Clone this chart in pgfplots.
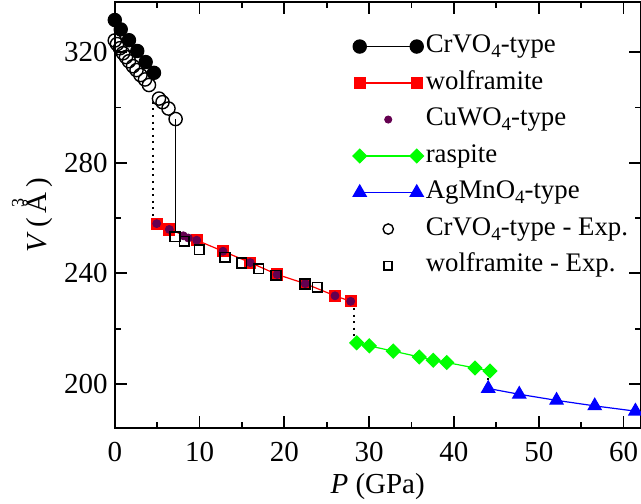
\documentclass[border=0pt]{standalone}
\usepackage{fontspec}
\setmainfont{Liberation Serif}
\usepackage{pgfplots}
\pgfplotsset{compat=1.18}
\definecolor{cupurple}{RGB}{100,0,80}
\newcommand{\sub}[1]{\raisebox{-0.42ex}{\fontsize{9.5}{9.5}\selectfont #1}}
\pgfplotsset{
  lineleg/.style={legend image code/.code={\draw[##1] plot coordinates {(0pt,0pt) (28.5pt,0pt)};}},
  dotleg/.style={legend image code/.code={\path[draw=none,fill=none] (0pt,0pt) rectangle (28.5pt,0.1pt);\draw[##1,every mark/.append style={scale=#1}] plot coordinates {(14.25pt,0pt)};}},
}
\begin{document}
\begin{tikzpicture}[x=1pt,y=1pt]
\useasboundingbox (0,0) rectangle (320.5,251.5);
\begin{axis}[
  at={(57.4pt,37.35pt)}, anchor=south west,
  scale only axis, width=262.85pt, height=213pt,
  xmin=0, xmax=62, ymin=184, ymax=338,
  xtick={0,10,...,60}, ytick={200,240,280,320},
  minor x tick num=1, minor y tick num=1,
  major tick length=6pt, minor tick length=3pt,
  tick style={line width=0.9pt, black},
  axis line style={line width=1pt},
  tick align=inside,
  /pgf/number format/assume math mode=true,
  ticklabel style={font=\fontsize{14.5}{16}\selectfont},
  xticklabel style={yshift=-3.5pt},
  xlabel={\textit{P} (GPa)},
  ylabel={\textit{V}\,(\,\ooalign{Å\cr\hidewidth\raisebox{0.8em}{\fontsize{9}{9}\selectfont 3}\hidewidth\cr}\,)},
  label style={font=\fontsize{14.5}{16}\selectfont},
  xlabel style={at={(axis description cs:0.5,-0.154)}, anchor=base},
  ylabel style={at={(axis description cs:-0.129,0.5)}, anchor=base},
  legend style={at={(axis description cs:0.453,0.939)}, anchor=north west,
    draw=none, fill=none, inner sep=0pt, outer sep=0pt, row sep=0pt,
    font=\fontsize{13.4}{15}\selectfont,
    nodes={text height=11pt, text depth=5pt, inner sep=1.125pt}},
  legend cell align=left,
]
% transitions
\addplot[black, line width=0.9pt, dash pattern=on 1pt off 2.3pt, forget plot] coordinates {(4.55,302)(4.55,258)};
\addplot[black, line width=0.6pt, forget plot] coordinates {(7.17,295.8)(7.17,255)};
\addplot[black, line width=0.9pt, dash pattern=on 1pt off 2.3pt, forget plot] coordinates {(28.2,229.9)(28.2,214.9)};
\addplot[black, line width=0.9pt, dash pattern=on 1pt off 2.3pt, forget plot] coordinates {(43.97,204.7)(43.97,198.4)};

\addplot[black, line width=0.6pt, mark=*, mark size=3.3pt, lineleg] coordinates {
 (0,331.6)(0.7,328.2)(1.67,324.3)(2.65,320.4)(3.64,316.4)(4.62,312.5)};
\addlegendentry{CrVO\sub{4}-type}

\addplot[red, line width=0.6pt, mark=square*, mark size=2.75pt, lineleg] coordinates {
 (4.94,258.0)(6.43,255.9)(9.66,252.0)(12.76,248.0)(15.98,243.9)(19.15,239.6)(22.46,236.3)(25.97,231.9)(27.82,229.9)};
\addlegendentry{wolframite}

\addplot[cupurple, only marks, mark=*, mark size=2pt, dotleg=0.9] coordinates {
 (4.94,258.0)(6.43,255.9)(8.08,253.6)(8.67,252.8)(9.66,252.0)(12.76,248.0)(15.98,243.9)(19.15,239.6)(22.46,236.3)(25.97,231.9)(27.82,229.9)};
\addlegendentry{CuWO\sub{4}-type}

\addplot[green, line width=0.6pt, mark=square*, mark size=2.4pt, mark options={rotate=45}, lineleg] coordinates {
 (28.53,214.9)(30.01,213.8)(32.84,211.9)(35.91,209.8)(37.56,208.6)(39.14,207.8)(42.48,205.8)(44.25,204.7)};
\addlegendentry{raspite}

\addplot[blue, line width=0.6pt, mark=triangle*, mark size=3.75pt, lineleg] coordinates {
 (44.04,198.4)(47.7,196.3)(52.1,194.1)(56.6,192.1)(61.4,190.2)};
\addlegendentry{AgMnO\sub{4}-type}

\addplot[black, only marks, mark=o, mark size=3.3pt, mark options={line width=0.7pt}, dotleg=0.78] coordinates {
 (0,324.2)(0.26,322.9)(0.61,321.4)(0.97,319.6)(1.32,318.2)(1.67,316.7)(2.15,314.9)(2.56,313.5)(3.03,311.7)(3.56,310.1)(4.03,308.1)(5.21,303.2)(5.63,301.9)(6.33,299.6)(7.17,295.8)};
\addlegendentry{CrVO\sub{4}-type - Exp.}

\addplot[black, only marks, mark=square, mark size=2.4pt, mark options={line width=0.9pt}, dotleg=0.85] coordinates {
 (7.1,253.3)(8.2,251.6)(9.96,248.6)(12.99,245.8)(14.96,243.8)(16.97,241.7)(18.99,239.3)(22.43,236.2)(23.88,235.0)};
\addlegendentry{wolframite - Exp.}
\end{axis}
\end{tikzpicture}
\end{document}
